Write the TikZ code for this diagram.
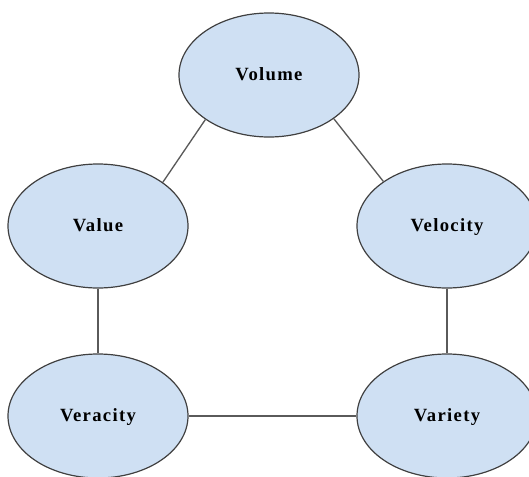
\documentclass[tikz,border=0pt]{standalone}
\usepackage{fontspec}
\setmainfont{Liberation Serif}
\usetikzlibrary{shapes.geometric}

\tikzset{every picture/.style={line width=0.75pt}}

\begin{document}
\begin{tikzpicture}[x=0.75pt,y=0.75pt,yscale=-1,xscale=1,
  vbox/.style={ellipse, draw={rgb, 255:red, 64; green, 64; blue, 64}, fill={rgb, 255:red, 207; green, 224; blue, 243}, line width=0.9, minimum width=135pt, minimum height=93pt, inner sep=0pt, text height=0.8em, text depth=0.05em, font=\fontsize{14}{16}\selectfont\bfseries\addfontfeatures{LetterSpace=7}},
  link/.style={draw={rgb, 255:red, 90; green, 90; blue, 90}, line width=1}]
%set diagram left start at 0, and has height of 476
\useasboundingbox (0,0) rectangle (529,476);

%Shape: Ellipse [id:volume]
\node [vbox] (volume) at (269,75) {Volume};
%Shape: Ellipse [id:value]
\node [vbox] (value) at (98,226) {Value};
%Shape: Ellipse [id:velocity]
\node [vbox] (velocity) at (447,226) {Velocity};
%Shape: Ellipse [id:veracity]
\node [vbox] (veracity) at (98,416) {Veracity};
%Shape: Ellipse [id:variety]
\node [vbox] (variety) at (447,416) {Variety};

%Straight Lines
\draw [link] (volume.215) -- (value.34);
%Straight Lines
\draw [link] (volume.326) -- (velocity.145);
%Straight Lines
\draw [link] (value.south) -- (veracity.north);
%Straight Lines
\draw [link] (velocity.south) -- (variety.north);
%Straight Lines
\draw [link] (veracity.east) -- (variety.west);

\end{tikzpicture}
\end{document}
